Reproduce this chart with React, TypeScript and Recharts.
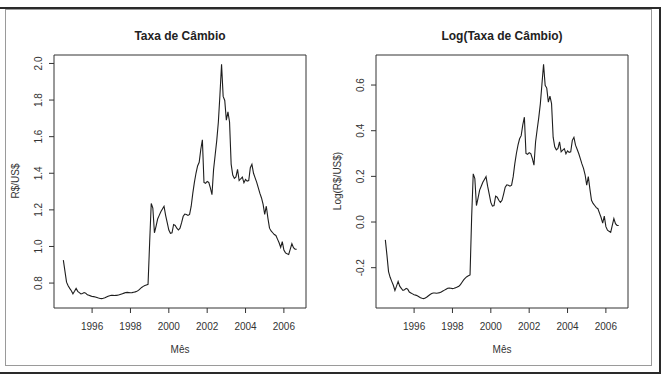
import { LineChart, Line, XAxis, YAxis, ReferenceArea } from "recharts";

// R$/US$ monthly, Jul/1994 – Sep/2006
const r1994 = [0.925, 0.865, 0.805, 0.785, 0.771, 0.758];
const r1995 = [0.741, 0.755, 0.771, 0.755, 0.748, 0.741, 0.743, 0.748, 0.745, 0.736, 0.733, 0.73];
const r1996 = [0.727, 0.726, 0.724, 0.721, 0.718, 0.716, 0.715, 0.717, 0.72, 0.724, 0.728, 0.731];
const r1997 = [0.733, 0.733, 0.732, 0.733, 0.734, 0.736, 0.739, 0.742, 0.745, 0.748, 0.749, 0.748];
const r1998 = [0.747, 0.748, 0.75, 0.752, 0.755, 0.76, 0.768, 0.776, 0.782, 0.787, 0.79, 0.793];
const r1999 = [1.02, 1.235, 1.21, 1.075, 1.11, 1.15, 1.17, 1.19, 1.205, 1.22, 1.17, 1.13];
const r2000 = [1.09, 1.072, 1.075, 1.12, 1.115, 1.1, 1.09, 1.1, 1.13, 1.165, 1.177, 1.175];
const r2001 = [1.17, 1.175, 1.22, 1.29, 1.35, 1.4, 1.44, 1.46, 1.53, 1.583, 1.35, 1.345];
const r2002 = [1.355, 1.35, 1.32, 1.283, 1.42, 1.5, 1.58, 1.68, 1.83, 1.995, 1.82, 1.798];
const r2003 = [1.69, 1.735, 1.68, 1.45, 1.39, 1.372, 1.38, 1.421, 1.36, 1.37, 1.379, 1.348];
const r2004 = [1.366, 1.357, 1.36, 1.43, 1.449, 1.4, 1.375, 1.35, 1.32, 1.29, 1.265, 1.23];
const r2005 = [1.175, 1.22, 1.155, 1.1, 1.085, 1.075, 1.065, 1.06, 1.04, 1.02, 0.995, 1.026];
const r2006 = [0.98, 0.965, 0.96, 0.956, 0.985, 1.015, 0.993, 0.985, 0.985];

const START_YEAR = 1994;
const START_MONTH = 7;

const yearTicks = [1996, 1998, 2000, 2002, 2004, 2006];
const rateTicks = [0.8, 1.0, 1.2, 1.4, 1.6, 1.8, 2.0];
const logTicks = [-0.2, 0.0, 0.2, 0.4, 0.6];

const rates = [
  ...r1994, ...r1995, ...r1996, ...r1997, ...r1998, ...r1999, ...r2000,
  ...r2001, ...r2002, ...r2003, ...r2004, ...r2005, ...r2006,
];

const data = rates.map((v, i) => ({
  t: START_YEAR + (START_MONTH - 1 + i) / 12,
  rate: v,
  logRate: Math.log(v),
}));

const X_DOMAIN: [number, number] = [1994.013, 2007.153];
const RATE_DOMAIN: [number, number] = [0.6638, 2.0462];
const LOG_DOMAIN: [number, number] = [-0.3766, 0.7316];

const FONT = "'Liberation Sans', Arial, Helvetica, sans-serif";
const INK = "#333";

function YTick(props: any) {
  const { x, y, payload } = props;
  return (
    <text
      x={x}
      y={y}
      transform={`rotate(-90, ${x}, ${y})`}
      textAnchor="middle"
      dominantBaseline="central"
      fontSize={10}
      fill={INK}
    >
      {Number(payload.value).toFixed(1)}
    </text>
  );
}

interface PanelProps {
  left: number;
  title: string;
  ylabel: string;
  dataKey: string;
  domain: [number, number];
  ticks: number[];
}

function Panel({ left, title, ylabel, dataKey, domain, ticks }: PanelProps) {
  return (
    <div style={{ position: "absolute", left, top: 0, width: 322, height: 377 }}>
      <div
        style={{
          position: "absolute",
          left: 48,
          width: 252,
          top: 29,
          lineHeight: "14px",
          fontSize: 12,
          fontWeight: "bold",
          textAlign: "center",
          color: "#222",
        }}
      >
        {title}
      </div>
      <div
        style={{
          position: "absolute",
          left: 10,
          top: 181,
          fontSize: 10,
          lineHeight: "12px",
          color: INK,
          whiteSpace: "nowrap",
          transform: "translate(-50%, -50%) rotate(-90deg)",
        }}
      >
        {ylabel}
      </div>
      <div
        style={{
          position: "absolute",
          left: 48,
          width: 252,
          top: 344,
          fontSize: 10,
          lineHeight: "12px",
          textAlign: "center",
          color: INK,
        }}
      >
        Mês
      </div>
      <LineChart
        width={322}
        height={377}
        data={data}
        margin={{ top: 55, right: 22, bottom: 39, left: 0 }}
      >
        <XAxis
          type="number"
          dataKey="t"
          domain={X_DOMAIN}
          ticks={yearTicks}
          allowDataOverflow
          height={30}
          axisLine={false}
          tickSize={5}
          tickMargin={10}
          tickLine={{ stroke: INK }}
          tick={{ fontSize: 10, fill: INK }}
          interval={0}
        />
        <YAxis
          type="number"
          domain={domain}
          ticks={ticks}
          allowDataOverflow
          width={48}
          axisLine={false}
          tickSize={5}
          tickMargin={10}
          tickLine={{ stroke: INK }}
          tick={<YTick />}
          interval={0}
        />
        <ReferenceArea
          x1={X_DOMAIN[0]}
          x2={X_DOMAIN[1]}
          y1={domain[0]}
          y2={domain[1]}
          fill="none"
          stroke={INK}
          strokeWidth={1}
          ifOverflow="visible"
        />
        <Line
          type="linear"
          dataKey={dataKey}
          stroke="#1e1e1e"
          strokeWidth={1.1}
          dot={false}
          isAnimationActive={false}
        />
      </LineChart>
    </div>
  );
}

export default function App() {
  return (
    <div
      style={{
        position: "absolute",
        left: 0,
        top: 0,
        width: 663,
        height: 377,
        background: "#fff",
        fontFamily: FONT,
      }}
    >
      {/* scanned frame */}
      <div style={{ position: "absolute", left: 0, top: 7, width: 661, height: 2, background: "#2a2a2a" }} />
      <div style={{ position: "absolute", left: 659, top: 7, width: 2, height: 367, background: "#2a2a2a" }} />
      <div style={{ position: "absolute", left: 0, top: 372, width: 661, height: 2, background: "#2a2a2a" }} />
      <div
        style={{
          position: "absolute",
          left: 5,
          top: 9,
          width: 645,
          height: 355,
          border: "1.5px solid #9a9a9a",
        }}
      />
      <Panel
        left={6}
        title="Taxa de Câmbio"
        ylabel="R$/US$"
        dataKey="rate"
        domain={RATE_DOMAIN}
        ticks={rateTicks}
      />
      <Panel
        left={328}
        title="Log(Taxa de Câmbio)"
        ylabel="Log(R$/US$)"
        dataKey="logRate"
        domain={LOG_DOMAIN}
        ticks={logTicks}
      />
    </div>
  );
}
